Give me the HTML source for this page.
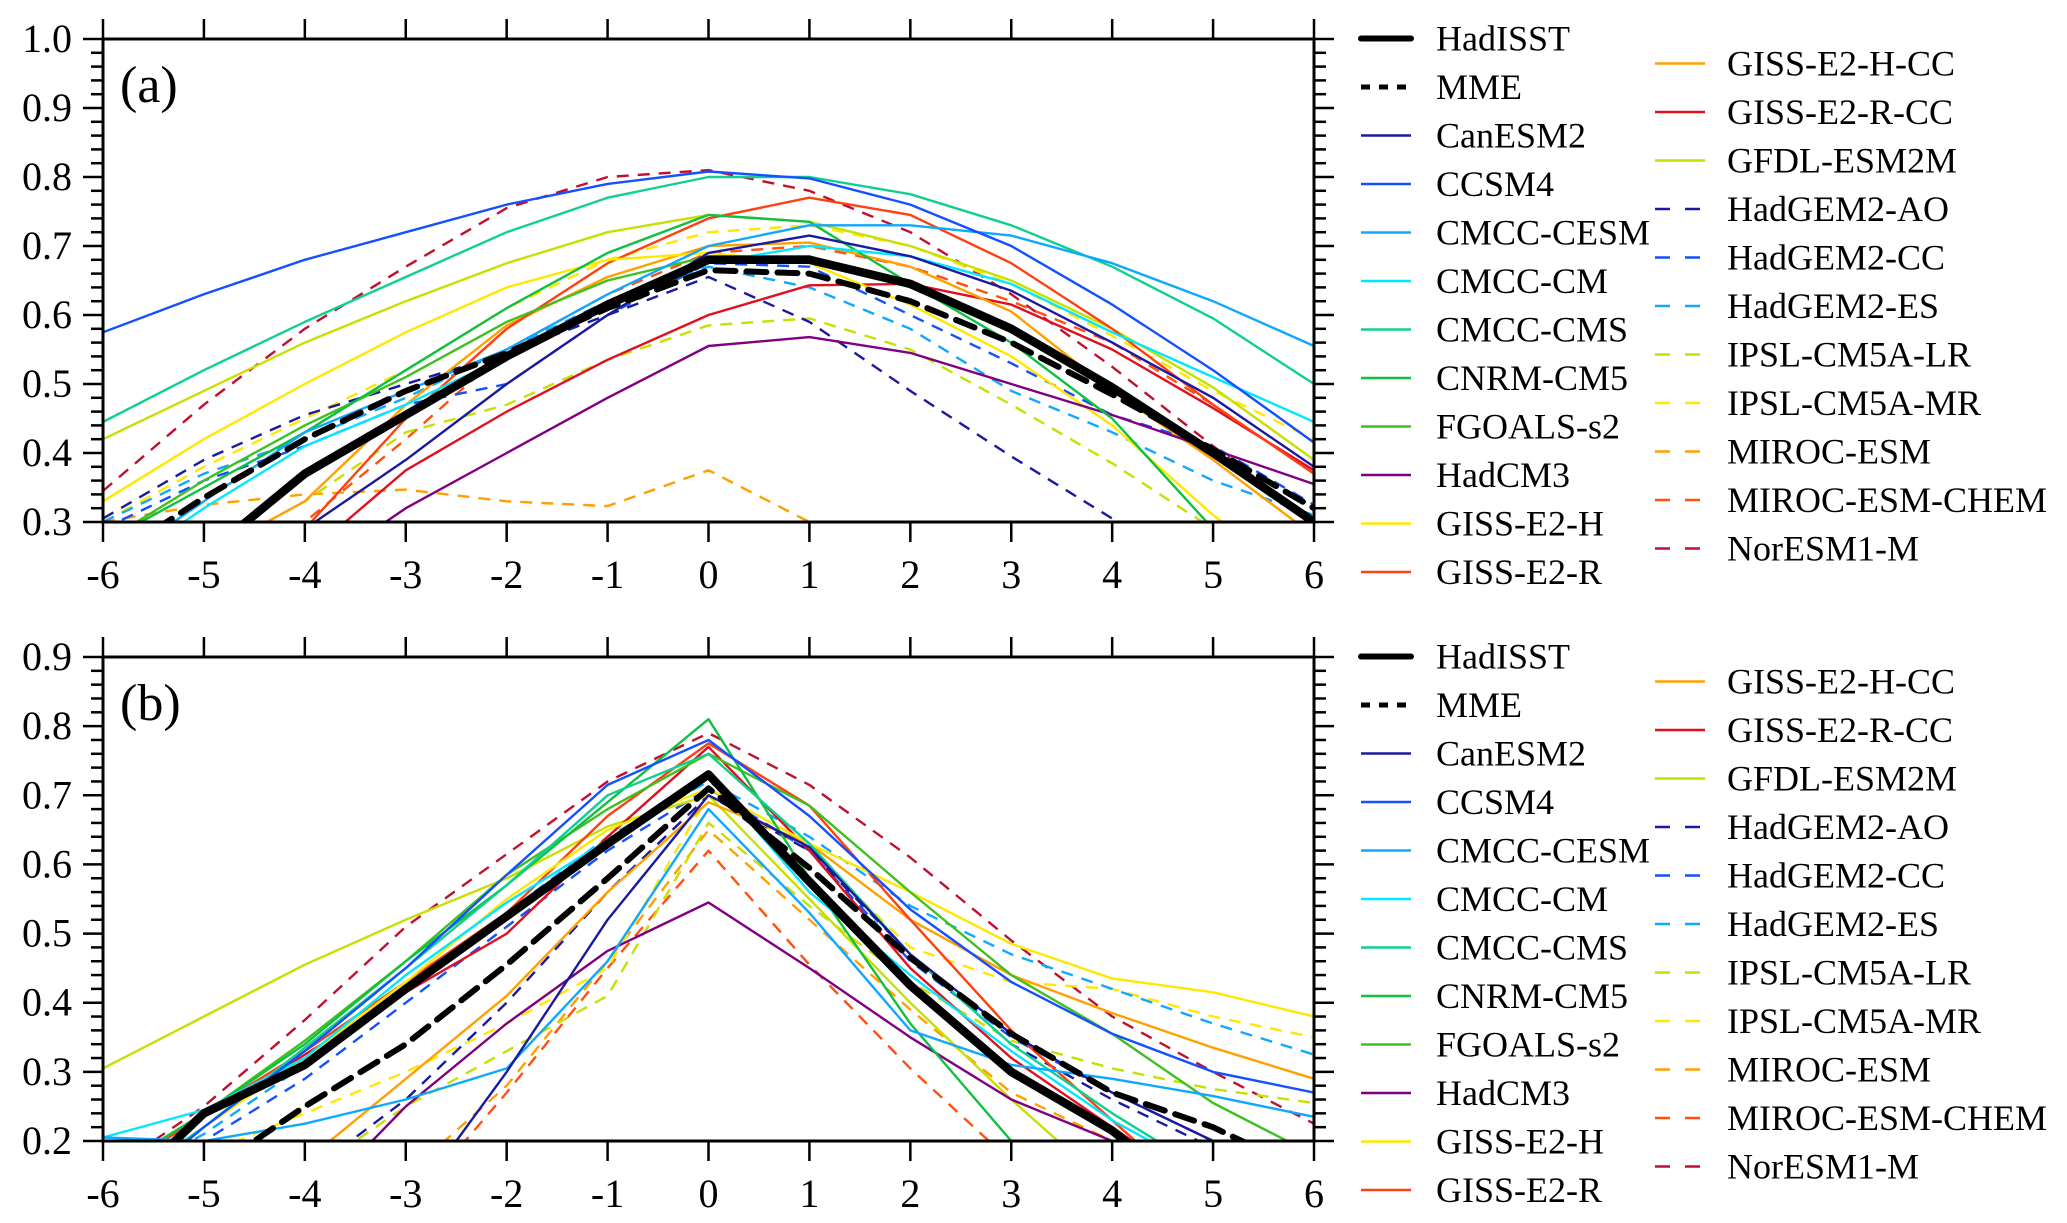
<!DOCTYPE html>
<html><head><meta charset="utf-8"><style>
html,body{margin:0;padding:0;background:#fff;width:2067px;height:1223px;overflow:hidden;}
svg{display:block;font-family:"Liberation Serif",serif;}
</style></head><body>
<svg id="chart" width="2067" height="1223" viewBox="0 0 2067 1223" xmlns="http://www.w3.org/2000/svg">
<defs>
<clipPath id="clipA"><rect x="103" y="39" width="1211" height="483"/></clipPath>
<clipPath id="clipB"><rect x="103" y="657" width="1211" height="484"/></clipPath>
</defs>
</svg>
<script>
const lags = [-6,-5,-4,-3,-2,-1,0,1,2,3,4,5,6];
const seriesNames = ["HadISST","MME","CanESM2","CCSM4","CMCC-CESM","CMCC-CM","CMCC-CMS","CNRM-CM5","FGOALS-s2","HadCM3","GISS-E2-H","GISS-E2-R","GISS-E2-H-CC","GISS-E2-R-CC","GFDL-ESM2M","HadGEM2-AO","HadGEM2-CC","HadGEM2-ES","IPSL-CM5A-LR","IPSL-CM5A-MR","MIROC-ESM","MIROC-ESM-CHEM","NorESM1-M"];
const seriesColors = ["#000000","#000000","#1a1aa0","#1450ff","#10a8ff","#00e8ff","#10d090","#10c040","#40c020","#800080","#ffe800","#ff4010","#ffa000","#e01020","#c8e000","#1a1aa0","#1450ff","#10a8ff","#c8e000","#ffe800","#ffa000","#ff5010","#c01030"];
const seriesDashed = [false,true,false,false,false,false,false,false,false,false,false,false,false,false,false,true,true,true,true,true,true,true,true];
const yTicksA = [0.3,0.4,0.5,0.6,0.7,0.8,0.9,1.0];
const yTicksB = [0.2,0.3,0.4,0.5,0.6,0.7,0.8,0.9];
const valuesA = [
[0.15,0.25,0.37,0.455,0.54,0.615,0.68,0.68,0.645,0.58,0.495,0.40,0.30],
[0.24,0.335,0.42,0.49,0.545,0.61,0.665,0.66,0.62,0.56,0.485,0.405,0.32],
[0.10,0.19,0.29,0.39,0.50,0.60,0.69,0.715,0.685,0.635,0.56,0.48,0.38],
[0.575,0.63,0.68,0.72,0.76,0.79,0.808,0.798,0.76,0.70,0.615,0.52,0.415],
[0.23,0.33,0.43,0.49,0.55,0.63,0.70,0.73,0.73,0.715,0.675,0.62,0.555],
[0.22,0.32,0.41,0.47,0.54,0.61,0.675,0.70,0.685,0.645,0.575,0.51,0.445],
[0.445,0.52,0.59,0.655,0.72,0.77,0.80,0.80,0.775,0.73,0.67,0.595,0.50],
[0.27,0.35,0.43,0.52,0.61,0.69,0.745,0.735,0.645,0.56,0.45,0.29,0.20],
[0.27,0.36,0.44,0.51,0.59,0.65,0.685,0.685,0.64,0.575,0.49,0.40,0.30],
[0.10,0.15,0.22,0.32,0.40,0.48,0.555,0.568,0.545,0.50,0.455,0.405,0.355],
[0.33,0.42,0.50,0.575,0.64,0.68,0.69,0.675,0.615,0.54,0.44,0.31,0.20],
[0.10,0.20,0.29,0.45,0.58,0.675,0.74,0.77,0.745,0.675,0.58,0.47,0.37],
[0.15,0.25,0.33,0.47,0.585,0.655,0.70,0.705,0.67,0.605,0.49,0.39,0.28],
[0.05,0.15,0.25,0.375,0.46,0.535,0.60,0.643,0.645,0.615,0.55,0.465,0.375],
[0.42,0.49,0.56,0.62,0.675,0.72,0.745,0.735,0.70,0.65,0.58,0.495,0.39],
[0.305,0.39,0.455,0.50,0.545,0.60,0.655,0.59,0.49,0.395,0.305,0.20,0.10],
[0.29,0.36,0.41,0.47,0.50,0.60,0.675,0.67,0.60,0.53,0.455,0.41,0.325],
[0.30,0.37,0.42,0.48,0.55,0.62,0.67,0.64,0.58,0.49,0.43,0.36,0.31],
[0.15,0.25,0.33,0.43,0.47,0.535,0.585,0.595,0.55,0.47,0.385,0.29,0.20],
[0.30,0.38,0.45,0.52,0.61,0.68,0.72,0.73,0.70,0.645,0.57,0.49,0.42],
[0.30,0.325,0.34,0.347,0.33,0.323,0.375,0.30,0.20,0.10,0.05,0.00,0.00],
[0.10,0.20,0.30,0.42,0.55,0.63,0.69,0.70,0.67,0.62,0.56,0.47,0.37],
[0.345,0.47,0.58,0.67,0.755,0.80,0.81,0.78,0.72,0.63,0.525,0.41,0.30]
];
const valuesB = [
[0.10,0.24,0.31,0.42,0.525,0.63,0.73,0.575,0.425,0.30,0.215,0.10,0.00],
[0.05,0.15,0.25,0.34,0.455,0.58,0.71,0.595,0.465,0.355,0.27,0.22,0.15],
[-0.1,0.00,0.05,0.10,0.30,0.52,0.70,0.625,0.47,0.355,0.27,0.20,0.10],
[0.10,0.22,0.33,0.45,0.585,0.715,0.78,0.67,0.535,0.43,0.355,0.30,0.27],
[0.205,0.20,0.225,0.26,0.305,0.46,0.68,0.53,0.36,0.31,0.29,0.265,0.235],
[0.205,0.245,0.32,0.44,0.545,0.635,0.73,0.56,0.44,0.33,0.23,0.15,0.10],
[0.12,0.22,0.335,0.45,0.57,0.70,0.76,0.63,0.47,0.34,0.24,0.15,0.10],
[0.15,0.24,0.34,0.46,0.57,0.69,0.81,0.58,0.37,0.20,0.10,0.05,0.00],
[0.15,0.24,0.345,0.46,0.585,0.68,0.76,0.685,0.56,0.44,0.355,0.255,0.18],
[0.00,0.05,0.10,0.25,0.37,0.475,0.545,0.45,0.35,0.26,0.20,0.10,0.05],
[0.12,0.22,0.32,0.43,0.55,0.65,0.71,0.63,0.56,0.485,0.435,0.415,0.38],
[0.14,0.24,0.33,0.43,0.53,0.67,0.775,0.685,0.52,0.36,0.23,0.10,0.00],
[0.00,0.05,0.17,0.29,0.41,0.56,0.69,0.63,0.52,0.44,0.385,0.335,0.29],
[0.15,0.235,0.325,0.415,0.50,0.64,0.77,0.62,0.45,0.32,0.22,0.12,0.05],
[0.305,0.38,0.455,0.52,0.58,0.655,0.70,0.55,0.40,0.26,0.13,0.05,0.00],
[0.00,0.05,0.15,0.26,0.40,0.56,0.70,0.62,0.47,0.34,0.26,0.19,0.10],
[0.12,0.20,0.29,0.40,0.51,0.62,0.71,0.62,0.46,0.35,0.27,0.20,0.12],
[0.13,0.21,0.31,0.42,0.53,0.64,0.72,0.64,0.54,0.47,0.42,0.37,0.325],
[0.00,0.05,0.15,0.25,0.33,0.41,0.66,0.54,0.43,0.345,0.305,0.275,0.255],
[0.10,0.18,0.24,0.30,0.37,0.45,0.70,0.62,0.48,0.43,0.42,0.38,0.35],
[0.00,0.00,0.05,0.15,0.28,0.46,0.65,0.52,0.39,0.27,0.20,0.15,0.10],
[-0.1,-0.05,0.00,0.10,0.27,0.45,0.62,0.455,0.305,0.17,0.05,0.00,0.00],
[0.15,0.25,0.375,0.51,0.615,0.72,0.79,0.715,0.61,0.49,0.38,0.30,0.225]
];

const NS="http://www.w3.org/2000/svg";
const svg=document.getElementById('chart');
function mk(tag,attrs,parent){const e=document.createElementNS(NS,tag);for(const k in attrs)e.setAttribute(k,attrs[k]);(parent||svg).appendChild(e);return e;}
const X0=103,X1=1314;
function xScale(v){return X0+(v+6)/12*(X1-X0);}

function drawPanel(p){
  const g=mk('g',{});
  
  
  const ymin=p.yTicks[0],ymax=p.yTicks[p.yTicks.length-1];
  const yS=v=>p.bot-(v-ymin)/(ymax-ymin)*(p.bot-p.top);
  const sg=mk('g',{'clip-path':'url(#'+p.clip+')'},g);
  
  
  for(let i=p.values.length-1;i>=0;i--){
    const pts=p.values[i].map((v,j)=>xScale(lags[j]).toFixed(1)+','+yS(v).toFixed(1)).join(' ');
    let w=2.4,dash=null;
    if(i===0)w=8.5;
    else if(i===1){w=6;dash='20 11';}
    else if(seriesDashed[i])dash='12 9';
    const a={points:pts,fill:'none',stroke:seriesColors[i],'stroke-width':w,'stroke-linejoin':'round'};
    if(dash)a['stroke-dasharray']=dash;
    if(i<2)a['stroke-linecap']='round';
    const pl=mk('polyline',a,sg);
    
    
  }
  const fr=mk('rect',{x:X0,y:p.top,width:X1-X0,height:p.bot-p.top,fill:'none',stroke:'#000','stroke-width':3},g);
  
  
  lags.forEach(l=>{
    const x=xScale(l);
    mk('line',{x1:x,y1:p.top,x2:x,y2:p.top-20,stroke:'#000','stroke-width':2.5},g);
    mk('line',{x1:x,y1:p.bot,x2:x,y2:p.bot+20,stroke:'#000','stroke-width':2.5},g);
    const t=mk('text',{x:x,y:p.bot+66,'font-size':40,'text-anchor':'middle'},g);
    t.textContent=String(l);
    
    
  });
  for(let v=ymin;v<=ymax+1e-9;v+=0.02){
    const y=yS(v);
    const major=Math.abs(Math.round(v*10)-v*10)<1e-6;
    const len=major?20:12;
    mk('line',{x1:X0,y1:y,x2:X0-len,y2:y,stroke:'#000','stroke-width':2.5},g);
    mk('line',{x1:X1,y1:y,x2:X1+len,y2:y,stroke:'#000','stroke-width':2.5},g);
  }
  p.yTicks.forEach(v=>{
    const t=mk('text',{x:72,y:yS(v)+13,'font-size':40,'text-anchor':'end'},g);
    t.textContent=v.toFixed(1);
    
    
  });
  const lab=mk('text',{x:120,y:p.top+63,'font-size':52},g);
  lab.textContent='('+p.key+')';
  
  
  const lg=mk('g',{},g);
  
  
  seriesNames.forEach((n,i)=>{
    let lx,tx,y;
    if(i<12){lx=1361;tx=1436;y=p.top-0.5+i*48.5;}
    else{lx=1655;tx=1727;y=p.top+24.5+(i-12)*48.5;}
    const e=mk('g',{},lg);
    
    
    const a={x1:lx,y1:y,x2:lx+50,y2:y,stroke:seriesColors[i],'stroke-width':i===0?6:(i===1?5:2.5)};
    if(i===1)a['stroke-dasharray']='9 9';
    else if(seriesDashed[i])a['stroke-dasharray']='15 15';
    if(i===0)a['stroke-linecap']='round';
    mk('line',a,e);
    const t=mk('text',{x:tx,y:y+12,'font-size':36},e);
    t.textContent=n;
  });
}
drawPanel({key:'a',top:39,bot:522,yTicks:yTicksA,values:valuesA,clip:'clipA'});
drawPanel({key:'b',top:657,bot:1141,yTicks:yTicksB,values:valuesB,clip:'clipB'});
</script>
</body></html>
